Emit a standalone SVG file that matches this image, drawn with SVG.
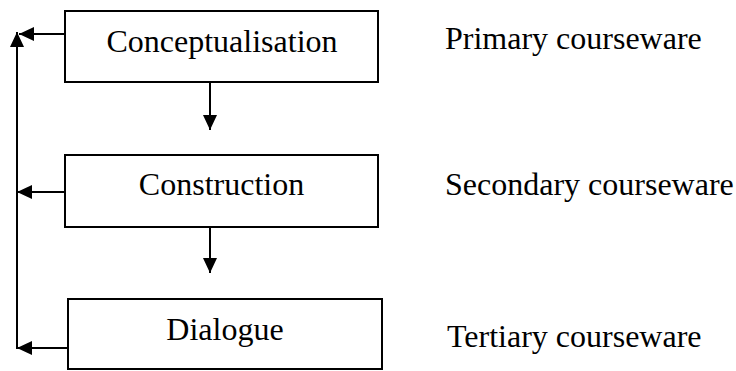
<svg xmlns="http://www.w3.org/2000/svg" width="736" height="371" viewBox="0 0 736 371">
<defs>
<marker id="ah" markerUnits="userSpaceOnUse" markerWidth="16" markerHeight="14" refX="15" refY="7" orient="auto">
<path d="M0,0 L15,7 L0,14 Z" fill="#000"/>
</marker>
<style>
.box{fill:#fff;stroke:#000;stroke-width:2}
.lbl{font-family:"Liberation Serif","Times New Roman",serif;font-size:32px;fill:#000}
.c{stroke:#000;stroke-width:2;fill:none}
.a{marker-end:url(#ah)}
</style>
</defs>
<rect width="736" height="371" fill="#fff"/>
<g id="connectors">
<line class="c a" x1="65" y1="34" x2="19" y2="34"/>
<line class="c a" x1="17" y1="349" x2="17" y2="32"/>
<line class="c a" x1="65" y1="192" x2="17" y2="192"/>
<line class="c a" x1="68" y1="348" x2="17" y2="348"/>
<line class="c a" x1="210" y1="82" x2="210" y2="130"/>
<line class="c a" x1="210" y1="227" x2="210" y2="273"/>
</g>
<g id="conceptualisation">
<rect class="box" x="65" y="11" width="313" height="71"/>
<text class="lbl" x="222" y="52" text-anchor="middle">Conceptualisation</text>
</g>
<g id="construction">
<rect class="box" x="65" y="155" width="313" height="72"/>
<text class="lbl" x="221.5" y="195" text-anchor="middle">Construction</text>
</g>
<g id="dialogue">
<rect class="box" x="68" y="299" width="314" height="70"/>
<text class="lbl" x="225" y="340" text-anchor="middle">Dialogue</text>
</g>
<g id="primary">
<text class="lbl" x="445" y="49">Primary courseware</text>
</g>
<g id="secondary">
<text class="lbl" x="445" y="195">Secondary courseware</text>
</g>
<g id="tertiary">
<text class="lbl" x="447" y="347">Tertiary courseware</text>
</g>
</svg>
